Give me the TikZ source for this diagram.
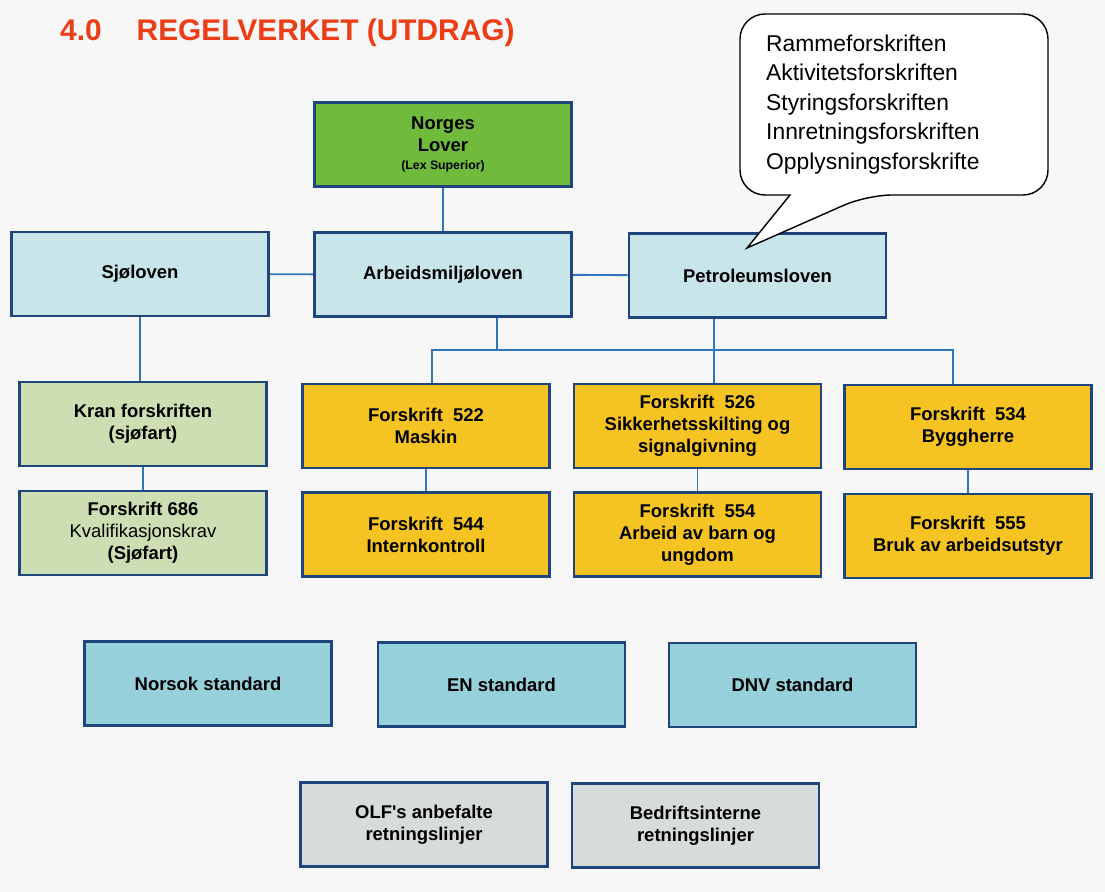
\documentclass[tikz,border=0pt]{standalone}
\usepackage{fontspec}
\setmainfont{Liberation Sans}
\usepackage{tikz}
\usetikzlibrary{calc, positioning}
\definecolor{PageBg}{RGB}{247,247,247}
\definecolor{TitleRed}{RGB}{235,62,22}
\definecolor{BoxLine}{RGB}{30,70,125}
\definecolor{LinkBlue}{RGB}{50,118,186}
\definecolor{lawgreen}{RGB}{112,186,60}
\definecolor{lawblue}{RGB}{200,230,234}
\definecolor{seagreen}{RGB}{205,222,178}
\definecolor{ruleyellow}{RGB}{245,196,35}
\definecolor{stdblue}{RGB}{150,208,218}
\definecolor{guidegrey}{RGB}{216,219,219}

\begin{document}
\begin{tikzpicture}[font=\bfseries\fontsize{10.5}{12.5}\selectfont,
    box/.style={draw=BoxLine, line width=1.6pt, minimum width=4.94cm,
                minimum height=1.68cm, align=center, inner sep=2pt},
    wide/.style={minimum width=5.14cm},
    link/.style={draw=LinkBlue, line width=1.1pt}]
  \fill[PageBg] (0,0) rectangle (22.1,-17.84);
  \useasboundingbox (0,0) rectangle (22.1,-17.84);

  \node[anchor=base west, text=TitleRed, font=\bfseries\fontsize{17}{20}\selectfont]
    (title) at (1.08,-0.8) {4.0\hspace{0.7cm}REGELVERKET (UTDRAG)};

  % laws
  \node[box, wide, fill=lawgreen] (lover) at (8.86,-2.89)
    {Norges\\Lover\\[-2pt]{\fontsize{7}{8}\selectfont (Lex Superior)}};
  \node[box, wide, fill=lawblue] (sjo)   at (2.8,-5.48)   {Sjøloven};
  \node[box, wide, fill=lawblue] (aml)   at (8.86,-5.49)  {Arbeidsmiljøloven};
  \node[box, wide, fill=lawblue] (petro) at (15.15,-5.51) {Petroleumsloven};

  % regulations
  \node[box, fill=seagreen] (kran) at (2.86,-8.48)  {Kran forskriften\\(sjøfart)};
  \node[box, fill=seagreen] (f686) at (2.86,-10.66)
    {Forskrift 686\\{\mdseries Kvalifikasjonskrav}\\(Sjøfart)};
  % name, x, y, text
  \foreach \n/\x/\y/\t in {f522/8.52/-8.52/{Forskrift\ \ 522\\Maskin},
                           f544/8.52/-10.69/{Forskrift\ \ 544\\Internkontroll},
                           f526/13.95/-8.52/{Forskrift\ \ 526\\Sikkerhetsskilting og\\signalgivning},
                           f554/13.95/-10.69/{Forskrift\ \ 554\\Arbeid av barn og\\ungdom},
                           f534/19.36/-8.54/{Forskrift\ \ 534\\Byggherre},
                           f555/19.36/-10.72/{Forskrift\ \ 555\\Bruk av arbeidsutstyr}} {
    \node[box, fill=ruleyellow] (\n) at (\x,\y) {\t};
  }

  % standards and guidelines
  \node[box, fill=stdblue] (norsok) at (4.16,-13.67)  {Norsok standard};
  \node[box, fill=stdblue] (en)     at (10.03,-13.69) {EN standard};
  \node[box, fill=stdblue] (dnv)    at (15.85,-13.70) {DNV standard};
  \node[box, fill=guidegrey] (olf)  at (8.48,-16.49)  {OLF\textquotesingle s anbefalte\\retningslinjer};
  \node[box, fill=guidegrey] (bedr) at (13.91,-16.51) {Bedriftsinterne\\retningslinjer};

  % connectors
  \coordinate (bus) at (11,-7.0);
  \draw[link] (lover) -- (aml);
  \draw[link] (sjo) -- (aml);
  \draw[link] (aml) -- (petro);
  \draw[link] (sjo.south) -- (sjo.south |- kran.north);
  \draw[link] ([xshift=1.08cm]aml.south) -- ([xshift=1.08cm]aml.south |- bus);
  \draw[link] ([xshift=0.12cm]f522.north) |- (bus) -| ([xshift=-0.3cm]f534.north);
  \draw[link] ([xshift=-0.87cm]petro.south) -- ([xshift=-0.87cm]petro.south |- f526.north);
  \draw[link] (kran) -- (f686);
  \draw[link] (f522) -- (f544);
  \draw[link] (f526) -- (f554);
  \draw[link] (f534) -- (f555);

  % speech bubble
  \draw[fill=white, line width=0.8pt] (15.8,-3.9) [rounded corners=0.5cm] -- (14.8,-3.9)
    -- (14.8,-0.28) -- (20.96,-0.28) -- (20.96,-3.9) -- (17.34,-3.9)
    [sharp corners] -- (14.94,-4.96) -- cycle;
  \node[anchor=west, align=left, font=\mdseries\fontsize{13}{16.8}\selectfont]
    (regs) at (15.2,-2.09)
    {Rammeforskriften\\Aktivitetsforskriften\\Styringsforskriften\\Innretningsforskriften\\Opplysningsforskrifte};
\end{tikzpicture}
\end{document}
